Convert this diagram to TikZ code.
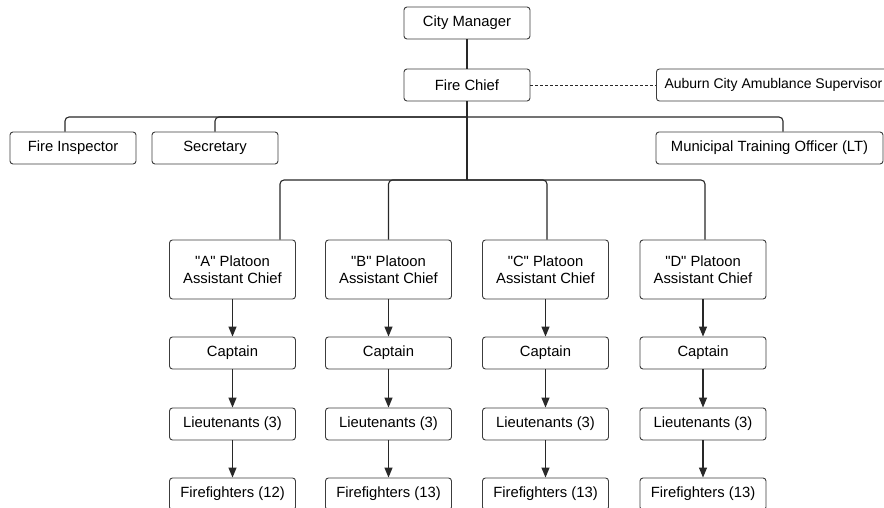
\documentclass[tikz,border=0pt]{standalone}
\usepackage{fontspec}
\setmainfont{Liberation Sans}
\usetikzlibrary{arrows.meta}
\definecolor{boxgray}{RGB}{60, 60, 60}
\definecolor{linegray}{RGB}{40, 40, 40}

\begin{document}
\begin{tikzpicture}[
        x=1pt, y=-1pt,
        font=\fontsize{14.8}{17}\selectfont,
        box/.style={rectangle, draw=boxgray, line width=0.9pt, rounded corners=3pt, minimum width=126pt, minimum height=32pt, inner sep=2pt, fill=white},
        tallbox/.style={box, minimum height=59pt, align=center},
        link/.style={draw=linegray, line width=1.1pt, rounded corners=4pt},
        arrow/.style={-{Triangle[length=10pt, width=8pt]}, draw=linegray, line width=1.1pt}
    ]
    \clip (0,0) rectangle (884,508);
    \fill[white] (0,0) rectangle (884,508);

    % Top of the chart
    \node[box] (manager) at (467, 23) {City Manager};
    \node[box] (chief) at (467, 85) {Fire Chief};
    \node[box, anchor=west, minimum width=234pt, font=\fontsize{14}{16}\selectfont] (ambulance) at (656, 85) {Auburn City Amublance Supervisor};
    \draw[link] (manager) -- (chief);
    \draw[draw=linegray, line width=0.9pt, dash pattern=on 2.5pt off 2.5pt] (chief) -- (ambulance);

    % Staff positions
    \node[box] (inspector) at (73, 148) {Fire Inspector};
    \node[box] (secretary) at (215, 148) {Secretary};
    \node[box, minimum width=227pt] (training) at (769.5, 148) {Municipal Training Officer (LT)};

    \coordinate (staffbus) at (467, 117);
    \coordinate (platoonbus) at (467, 180);
    \draw[link] (chief) -- (platoonbus);
    \draw[link] (inspector.north -| 65, 0) |- (staffbus) -| (training.north -| 783, 0);
    \draw[link] (secretary.north) |- (staffbus);

    % Platoons
    \node[tallbox] (platoonA) at (232.5, 269.5) {\textquotedbl A\textquotedbl{} Platoon\\Assistant Chief};
    \node[tallbox] (platoonB) at (388.5, 269.5) {\textquotedbl B\textquotedbl{} Platoon\\Assistant Chief};
    \node[tallbox] (platoonC) at (545.5, 269.5) {\textquotedbl C\textquotedbl{} Platoon\\Assistant Chief};
    \node[tallbox] (platoonD) at (703, 269.5) {\textquotedbl D\textquotedbl{} Platoon\\Assistant Chief};

    \draw[link] (platoonA.north -| 280, 0) |- (platoonbus) -| (platoonD.north -| 705, 0);
    \draw[link] (platoonB.north) |- (platoonbus);
    \draw[link] (platoonC.north -| 547, 0) |- (platoonbus);

    % Ranks under each platoon
    \foreach \p/\x/\n in {A/232.5/12, B/388.5/13, C/545.5/13, D/703/13} {
        \node[box] (captain\p) at (\x, 353) {Captain};
        \node[box] (lieutenants\p) at (\x, 424) {Lieutenants (3)};
        \node[box] (firefighters\p) at (\x, 494) {Firefighters (\n)};
        \draw[arrow] (platoon\p) -- (captain\p);
        \draw[arrow] (captain\p) -- (lieutenants\p);
        \draw[arrow] (lieutenants\p) -- (firefighters\p);
    }

\end{tikzpicture}
\end{document}
